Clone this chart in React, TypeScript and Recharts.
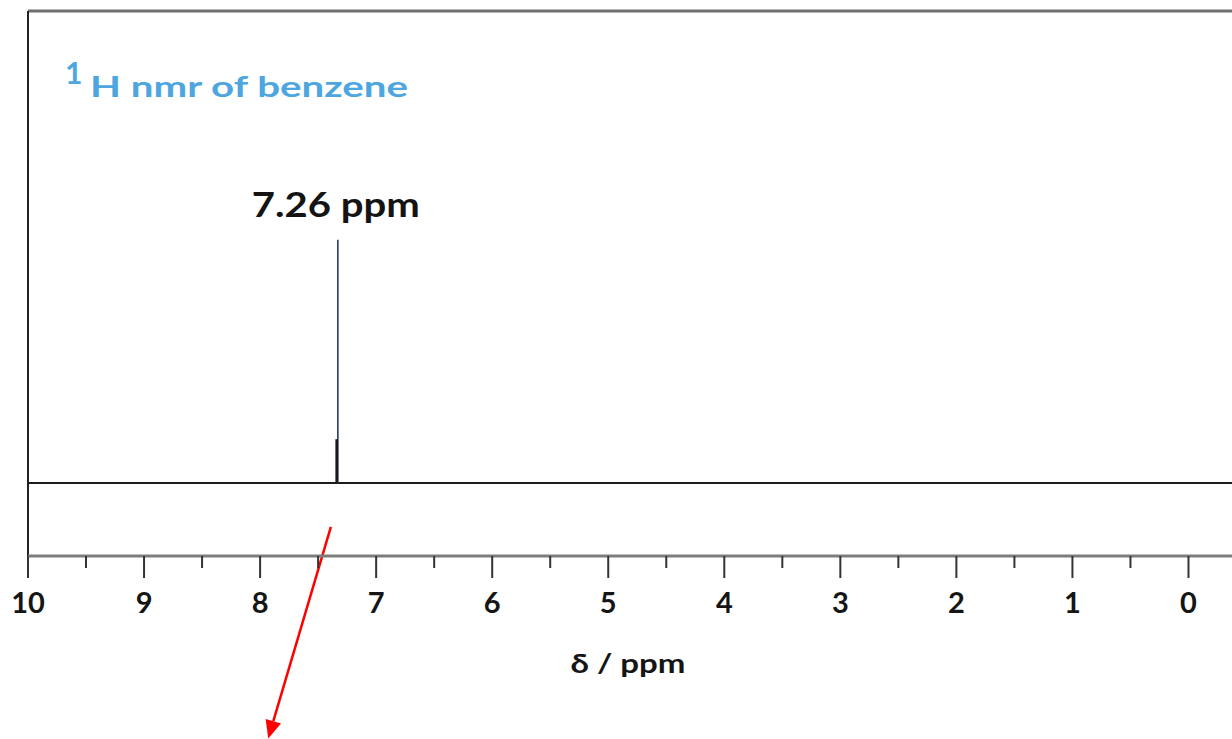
import { ComposedChart, Line, XAxis, YAxis, ReferenceLine, ReferenceDot, Label } from "recharts";

// chemical shift axis (ppm), drawn high -> low
const shiftDomain = [-0.375, 10];
const majorTicks = [10, 9, 8, 7, 6, 5, 4, 3, 2, 1, 0];
const minorTicks = [9.5, 8.5, 7.5, 6.5, 5.5, 4.5, 3.5, 2.5, 1.5, 0.5];

// relative intensity axis
const intensityDomain = [-0.3, 1.94];

// sticks of the spectrum
const stickShifts = [7.33, 7.34];
const stickHeights = [1.0, 0.18];

const peakLabel = "7.26 ppm";
const titleIsotope = "1";
const titleText = "H nmr of benzene";
const axisTitle = "δ / ppm";

// arrow under the axis, pointing down-left
const arrowFrom = { shift: 7.39, intensity: -0.18 };
const arrowTo = { shift: 7.93, intensity: -1.05 };

const font = "Lato, 'Open Sans', sans-serif";

const stickStyles = [
  { stroke: "#2a3a66", width: 1.6 },
  { stroke: "#1a1a1a", width: 2.6 },
];

function AxisTick(props: any) {
  const { x, y, payload } = props;
  const major = Number.isInteger(payload.value);
  return (
    <g>
      <line x1={x} x2={x} y1={y} y2={y + (major ? 22 : 12)} stroke="#333" strokeWidth={2} />
      {major && (
        <text x={x} y={y + 57} textAnchor="middle" fontFamily={font} fontWeight={700} fontSize={29} fill="#151515">
          {payload.value}
        </text>
      )}
    </g>
  );
}

function Arrow(props: any) {
  const { x1, y1, x2, y2 } = props;
  const a = Math.atan2(y2 - y1, x2 - x1);
  const len = 18;
  const half = 8;
  const bx = x2 - len * Math.cos(a);
  const by = y2 - len * Math.sin(a);
  const px = -Math.sin(a) * half;
  const py = Math.cos(a) * half;
  return (
    <g>
      <line x1={x1} y1={y1} x2={bx} y2={by} stroke="#ff0000" strokeWidth={2.5} />
      <polygon points={`${x2},${y2} ${bx + px},${by + py} ${bx - px},${by - py}`} fill="#ff0000" />
    </g>
  );
}

function Title(props: any) {
  const { cx, cy } = props;
  return (
    <g fill="#4da6df" fontFamily={font} fontWeight={700}>
      <text x={cx + 37} y={cy + 73} fontSize={30}>{titleIsotope}</text>
      <text x={cx + 62} y={cy + 86} fontSize={29} textLength={318} lengthAdjust="spacingAndGlyphs">
        {titleText}
      </text>
    </g>
  );
}

function PeakText(props: any) {
  const { cx, cy } = props;
  return (
    <text x={cx - 2} y={cy - 23} textAnchor="middle" fontFamily={font} fontWeight={700} fontSize={35}
      fill="#141414" textLength={168} lengthAdjust="spacingAndGlyphs">
      {peakLabel}
    </text>
  );
}

export default function App() {
  const ticks = [...majorTicks, ...minorTicks].sort((a, b) => b - a);
  const sticks = stickShifts.map((s, i) => [
    { shift: s, intensity: 0 },
    { shift: s, intensity: stickHeights[i] },
  ]);

  return (
    <div style={{ position: "absolute", left: 0, top: 0, background: "#fff" }}>
      <ComposedChart width={1232} height={739} margin={{ top: 11, right: 0, bottom: 0, left: 28 }}>
        <XAxis
          dataKey="shift"
          type="number"
          domain={shiftDomain}
          reversed
          ticks={ticks}
          interval={0}
          height={183}
          tickSize={0}
          tickMargin={0}
          tickLine={false}
          tick={<AxisTick />}
          axisLine={{ stroke: "#7d7d7d", strokeWidth: 3 }}
        >
          <Label
            content={(p: any) => {
              const vb = p.viewBox;
              return (
                <text x={vb.x + vb.width / 2 - 2} y={vb.y + 117} textAnchor="middle" fontFamily={font}
                  fontWeight={700} fontSize={26} fill="#151515" textLength={115} lengthAdjust="spacingAndGlyphs">
                  {axisTitle}
                </text>
              );
            }}
          />
        </XAxis>
        <YAxis type="number" domain={intensityDomain} allowDataOverflow hide />
        <ReferenceLine y={intensityDomain[1]} stroke="#707070" strokeWidth={3} />
        <ReferenceLine x={shiftDomain[1]} stroke="#222" strokeWidth={2} />
        <ReferenceLine y={0} stroke="#1c1c1c" strokeWidth={2} />
        {sticks.map((d, i) => (
          <Line
            key={i}
            data={d}
            dataKey="intensity"
            type="linear"
            stroke={stickStyles[i].stroke}
            strokeWidth={stickStyles[i].width}
            dot={false}
            activeDot={false}
            isAnimationActive={false}
          />
        ))}
        <ReferenceDot x={stickShifts[0]} y={stickHeights[0]} r={0} shape={<PeakText />} />
        <ReferenceDot x={shiftDomain[1]} y={intensityDomain[1]} r={0} shape={<Title />} />
        <ReferenceLine
          segment={[
            { x: arrowFrom.shift, y: arrowFrom.intensity },
            { x: arrowTo.shift, y: arrowTo.intensity },
          ]}
          ifOverflow="visible"
          shape={<Arrow />}
        />
      </ComposedChart>
    </div>
  );
}
